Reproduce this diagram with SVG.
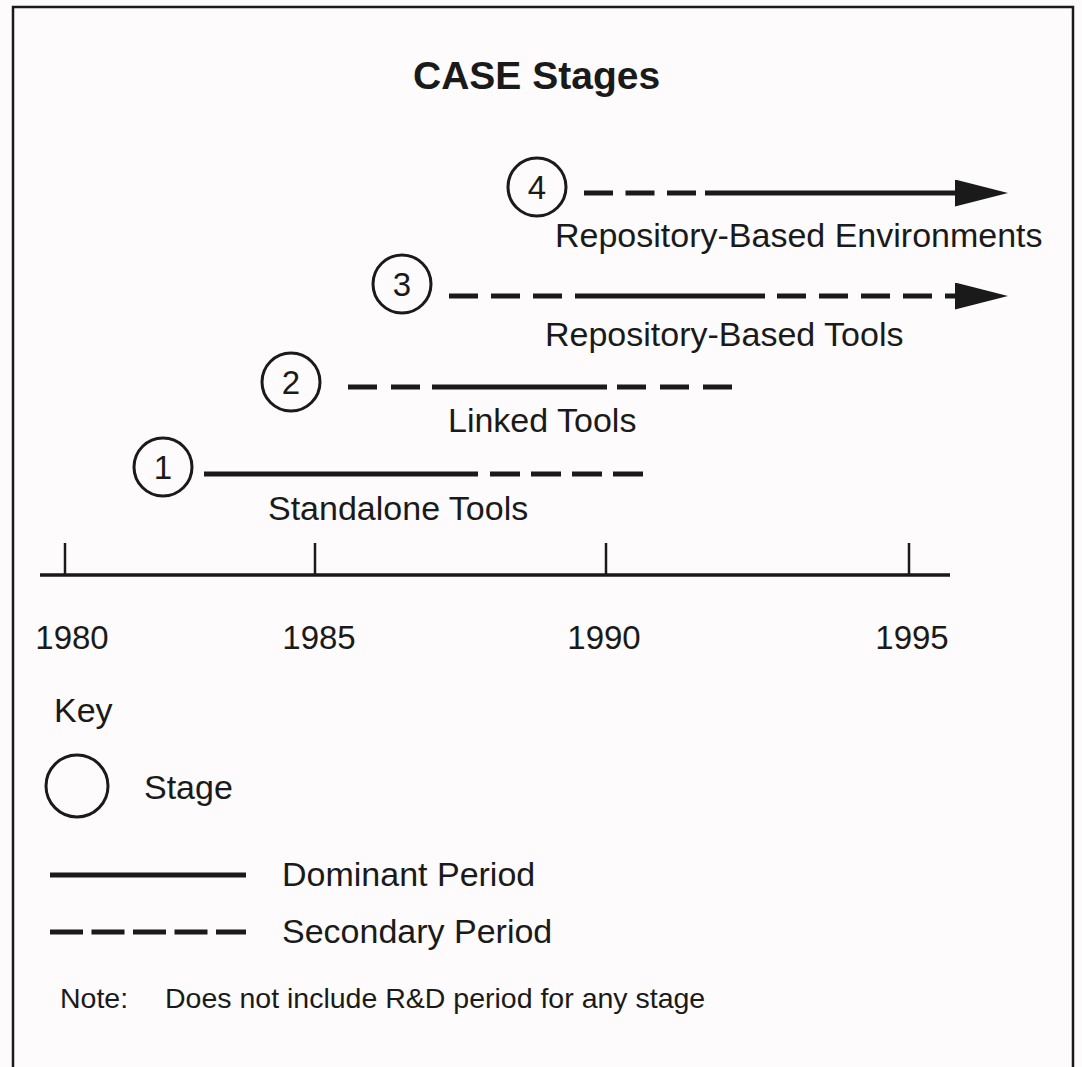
<svg xmlns="http://www.w3.org/2000/svg" width="1082" height="1067" viewBox="0 0 1082 1067">
  <defs>
    <style>
      .txt { font-family: "Liberation Sans", Arial, Helvetica, sans-serif; fill: #1a1a1a; }
      .title { font-size: 39px; font-weight: bold; }
      .label { font-size: 34px; }
      .year { font-size: 33px; text-anchor: middle; }
      .num { font-size: 33px; text-anchor: middle; }
      .note { font-size: 28.5px; }
      .ring { fill: none; stroke: #1a1a1a; stroke-width: 3; }
      .dominant { stroke: #1a1a1a; stroke-width: 5; fill: none; }
      .secondary { stroke: #1a1a1a; stroke-width: 5; fill: none; }
      .axis { stroke: #1a1a1a; stroke-width: 3.5; fill: none; }
      .tick { stroke: #1a1a1a; stroke-width: 2.5; fill: none; }
    </style>
    <marker id="arrow" viewBox="0 0 53 27" refX="0" refY="13.5" markerWidth="53" markerHeight="27" markerUnits="userSpaceOnUse" orient="auto">
      <polygon points="0,0 53,13.5 0,27" fill="#1a1a1a"/>
    </marker>
  </defs>

  <rect x="0" y="0" width="1082" height="1067" fill="#fdfbfb"/>

  <!-- frame, open at the bottom -->
  <path d="M13,1067 V7 H1073 V1067" fill="none" stroke="#1a1a1a" stroke-width="2.5"/>

  <text class="txt title" x="413" y="89">CASE Stages</text>

  <!-- time axis -->
  <g id="axis">
    <line class="axis" x1="40" y1="575" x2="950" y2="575"/>
    <line class="tick" x1="65" y1="543" x2="65" y2="575"/>
    <line class="tick" x1="315" y1="543" x2="315" y2="575"/>
    <line class="tick" x1="606" y1="543" x2="606" y2="575"/>
    <line class="tick" x1="909" y1="543" x2="909" y2="575"/>
    <text class="txt year" x="72" y="649">1980</text>
    <text class="txt year" x="319" y="649">1985</text>
    <text class="txt year" x="604" y="649">1990</text>
    <text class="txt year" x="912" y="649">1995</text>
  </g>

  <!-- stages -->
  <g id="stage1">
    <circle class="ring" cx="163" cy="467" r="29"/>
    <text class="txt num" x="163" y="479">1</text>
    <text class="txt label" x="268" y="520">Standalone Tools</text>
  </g>
  <g id="stage2">
    <circle class="ring" cx="291" cy="382" r="29"/>
    <text class="txt num" x="291" y="394">2</text>
    <text class="txt label" x="448" y="432">Linked Tools</text>
  </g>
  <g id="stage3">
    <circle class="ring" cx="402" cy="284" r="29"/>
    <text class="txt num" x="402" y="296">3</text>
    <text class="txt label" x="545" y="346">Repository-Based Tools</text>
  </g>
  <g id="stage4">
    <circle class="ring" cx="537" cy="187" r="29"/>
    <text class="txt num" x="537" y="199">4</text>
    <text class="txt label" x="555" y="247">Repository-Based Environments</text>
  </g>

  <!-- period bars -->
  <g id="connectors">
    <line class="dominant" x1="204" y1="474" x2="478" y2="474"/>
    <line class="secondary" x1="490" y1="474" x2="643" y2="474" stroke-dasharray="30 11"/>

    <line class="secondary" x1="348" y1="387" x2="420" y2="387" stroke-dasharray="29 14"/>
    <line class="dominant" x1="432" y1="387" x2="607" y2="387"/>
    <line class="secondary" x1="617" y1="387" x2="732" y2="387" stroke-dasharray="29 14"/>

    <line class="secondary" x1="449" y1="296" x2="562" y2="296" stroke-dasharray="29 13"/>
    <line class="dominant" x1="575" y1="296" x2="765" y2="296"/>
    <line class="secondary" x1="777" y1="296" x2="955" y2="296" stroke-dasharray="29 13" marker-end="url(#arrow)"/>

    <line class="secondary" x1="584" y1="193" x2="696" y2="193" stroke-dasharray="29 12.5"/>
    <line class="dominant" x1="705" y1="193" x2="955" y2="193" marker-end="url(#arrow)"/>
  </g>

  <!-- key -->
  <g id="key">
    <text class="txt label" x="54" y="722">Key</text>
    <circle class="ring" cx="77" cy="786" r="31"/>
    <text class="txt label" x="144" y="799">Stage</text>
    <line class="dominant" x1="50" y1="875" x2="246" y2="875"/>
    <text class="txt label" x="282" y="886">Dominant Period</text>
    <line class="secondary" x1="50" y1="932" x2="246" y2="932" stroke-dasharray="33 8.5"/>
    <text class="txt label" x="282" y="943">Secondary Period</text>
  </g>

  <g id="note">
    <text class="txt note" x="60" y="1008">Note:</text>
    <text class="txt note" x="165" y="1008">Does not include R&amp;D period for any stage</text>
  </g>
</svg>
